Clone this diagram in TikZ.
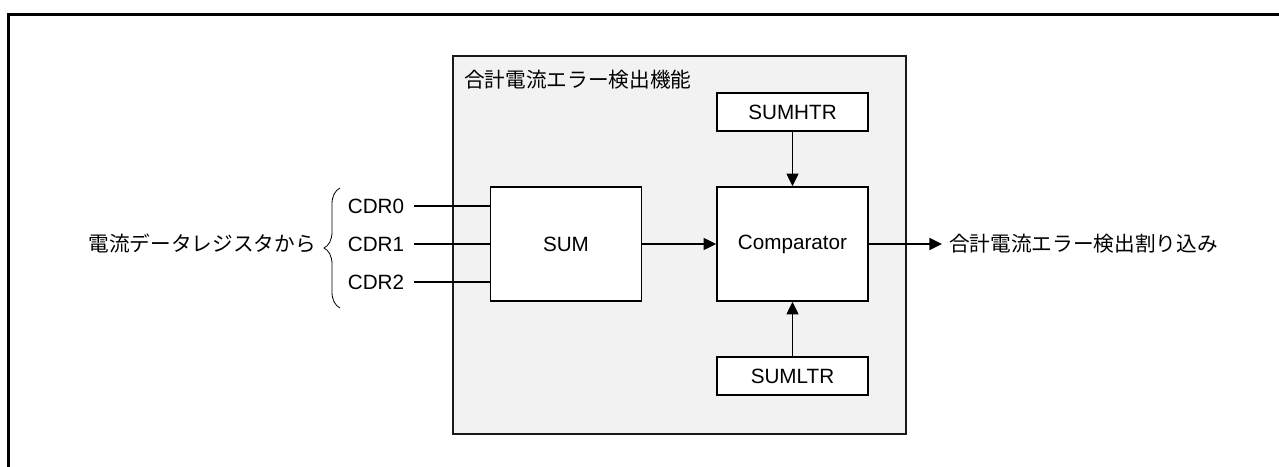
\documentclass[tikz,border=0pt]{standalone}
\usepackage{fontspec}
\setmainfont{Liberation Sans}
\newfontfamily\jp{Noto Sans CJK JP}
\usetikzlibrary{arrows.meta,decorations.pathreplacing}
\definecolor{panelgray}{HTML}{F2F2F2}
\begin{document}
\begin{tikzpicture}[x=0.75pt,y=-0.75pt,
  font=\fontsize{15.5pt}{18pt}\selectfont,
  blk/.style={draw=black,fill=white,line width=1.2pt,inner sep=0pt},
  conn/.style={line width=1.2pt},
  arr/.style={conn,-{Triangle[length=9.5pt,width=9pt]}},
  lbl/.style={inner sep=0pt,anchor=center}]
\useasboundingbox (0,0) rectangle (1279,467);
% outer frame (only top and left visible)
\draw[line width=2.3pt] (8.5,467) -- (8.5,14.5) -- (1279,14.5);
% panel
\node[draw=black!90,fill=panelgray,line width=1.2pt,inner sep=0pt,minimum width=453*0.75pt,minimum height=378*0.75pt,anchor=north west] (panel) at (452,55) {};
\node[lbl,anchor=west,font=\jp\fontsize{15.5pt}{18pt}\selectfont] (title) at (464,80) {合計電流エラー検出機能};
% blocks
\node[blk,minimum width=151*0.75pt,minimum height=38*0.75pt] (htr) at (792.5,112) {SUMHTR};
\node[blk,minimum width=151*0.75pt,minimum height=114*0.75pt] (sum) at (566,244) {SUM};
\node[blk,minimum width=151*0.75pt,minimum height=114*0.75pt] (cmp) at (792.5,244) {Comparator};
\node[blk,minimum width=151*0.75pt,minimum height=38*0.75pt] (ltr) at (792.5,376) {SUMLTR};
% inputs
\node[lbl] (c0) at (376,206) {CDR0};
\node[lbl] (c1) at (376,244) {CDR1};
\node[lbl] (c2) at (376,282) {CDR2};
\draw[conn] (c0.east) ++(10,0) coordinate (s0) -- (sum.west |- s0);
\draw[conn] (c1.east) ++(10,0) coordinate (s1) -- (sum.west |- s1);
\draw[conn] (c2.east) ++(10,0) coordinate (s2) -- (sum.west |- s2);
\coordinate (bb) at (340,308);
\coordinate (bt) at (340,188);
\draw[line width=0.6pt,decorate,decoration={brace,amplitude=12pt,aspect=0.5}] (bb) -- (bt);
\node[lbl,anchor=east,font=\jp\fontsize{15.5pt}{18pt}\selectfont] (src) at (316,244) {電流データレジスタから};
% connectors
\draw[arr] (sum.east) -- (cmp.west);
\draw[arr] (htr.south) -- (cmp.north);
\draw[arr] (ltr.north) -- (cmp.south);
\node[lbl,anchor=west,font=\jp\fontsize{15.5pt}{18pt}\selectfont] (out) at (949,244) {合計電流エラー検出割り込み};
\draw[arr] (cmp.east) -- ([xshift=-7*0.75pt]out.west);
\end{tikzpicture}
\end{document}
